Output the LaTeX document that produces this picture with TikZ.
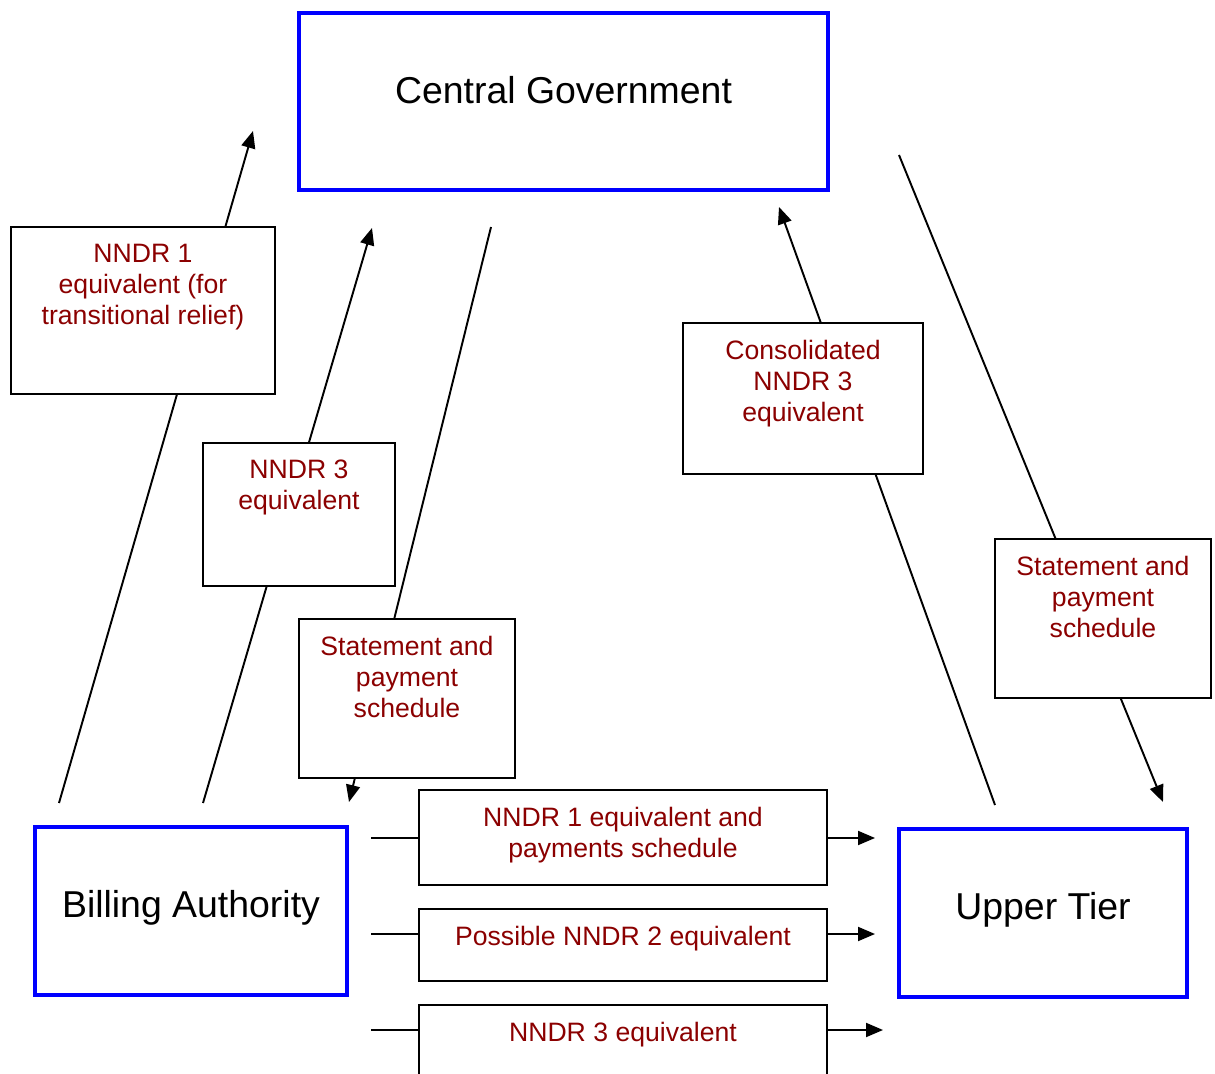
\documentclass[tikz,border=0pt]{standalone}
\usepackage{fontspec}
\setmainfont{Liberation Sans}
\usetikzlibrary{arrows.meta}
\definecolor{docred}{RGB}{139,0,0}

\begin{document}
\begin{tikzpicture}[x=0.02cm,y=-0.02cm,line width=1.1pt,
    sz/.style 2 args={minimum width=#1*0.02cm,minimum height=#2*0.02cm},
    party/.style={draw=blue,line width=2.6pt,inner sep=0pt},
    doc/.style={draw=black,fill=white,inner sep=0pt},
    bigtxt/.style={font=\fontsize{21.3}{25}\selectfont,inner sep=0pt,anchor=north,yshift=-1.3cm},
    doctxt/.style={font=\fontsize{15.15}{17.6}\selectfont,text=docred,align=center,inner sep=0pt,anchor=north,yshift=-0.34cm},
    flow/.style={-{Triangle[length=3.4mm,width=2.8mm]}}]
    \useasboundingbox (0,0) rectangle (1215,1074);
    \clip (0,0) rectangle (1215,1074);
    % end points of the flows
    \coordinate (ba1) at (59,803);   \coordinate (cg1) at (253,131);
    \coordinate (ba2) at (203,803);  \coordinate (cg2) at (372,228);
    \coordinate (cg3) at (491,227);  \coordinate (ba3) at (349,802);
    \coordinate (ut1) at (995,805);  \coordinate (cg4) at (779,207);
    \coordinate (cg5) at (899,155);  \coordinate (ut2) at (1163,802);
    \coordinate (ba4) at (371,838);  \coordinate (ut3) at (875,838);
    \coordinate (ba5) at (371,934);  \coordinate (ut4) at (875,934);
    \coordinate (ba6) at (371,1030); \coordinate (ut5) at (883,1030);
    \draw[flow] (ba1) -- (cg1);
    \draw[flow] (ba2) -- (cg2);
    \draw[flow] (cg3) -- (ba3);
    \draw[flow] (ut1) -- (cg4);
    \draw[flow] (cg5) -- (ut2);
    \draw[flow] (ba4) -- (ut3);
    \draw[flow] (ba5) -- (ut4);
    \draw[flow] (ba6) -- (ut5);
    % the three parties
    \node[party,sz={529}{177},label={[bigtxt]north:Central Government}] (cg) at (563.5,101.5) {};
    \node[party,sz={312}{168},label={[bigtxt]north:Billing Authority}] (ba) at (191,911) {};
    \node[party,sz={288}{168},label={[bigtxt]north:Upper Tier}] (ut) at (1043,913) {};
    % documents passed along the flows
    \node[doc,sz={264}{167},label={[doctxt]north:NNDR 1\\equivalent (for\\transitional relief)}] (nndr1) at (143,310.5) {};
    \node[doc,sz={192}{143},label={[doctxt]north:NNDR 3\\equivalent}] (nndr3) at (299,514.5) {};
    \node[doc,sz={216}{159},label={[doctxt]north:Statement and\\payment\\schedule}] (stmt1) at (407,698.5) {};
    \node[doc,sz={240}{151},label={[doctxt]north:Consolidated\\NNDR 3\\equivalent}] (cons) at (803,398.5) {};
    \node[doc,sz={216}{159},label={[doctxt]north:Statement and\\payment\\schedule}] (stmt2) at (1103,618.5) {};
    \node[doc,sz={408}{95},label={[doctxt]north:NNDR 1 equivalent and\\payments schedule}] (pay) at (623,837.5) {};
    \node[doc,sz={408}{72},label={[doctxt]north:Possible NNDR 2 equivalent}] (nndr2) at (623,945) {};
    \node[doc,sz={408}{80},label={[doctxt]north:NNDR 3 equivalent}] (nndr3b) at (623,1045) {};
\end{tikzpicture}
\end{document}
